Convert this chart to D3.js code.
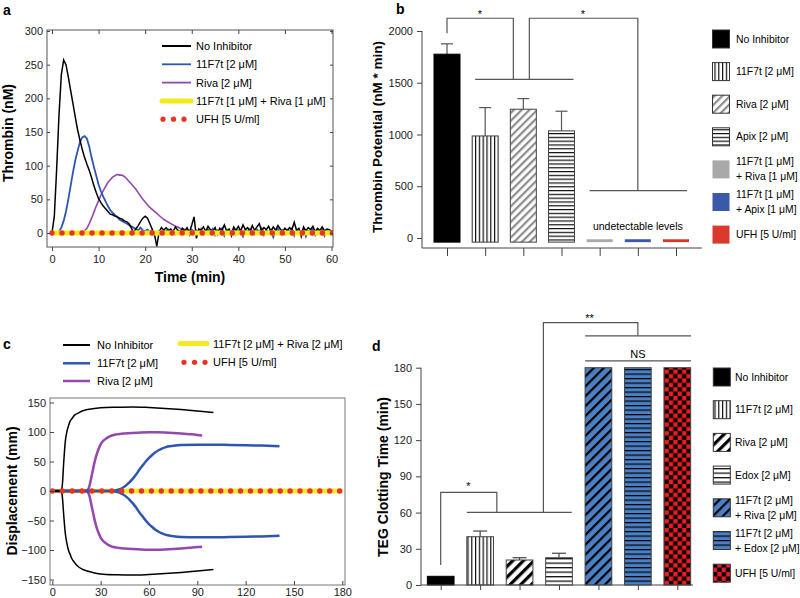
<!DOCTYPE html>
<html><head><meta charset="utf-8">
<script src="https://cdn.jsdelivr.net/npm/d3@7"></script>
<style>body{margin:0;background:#fff}svg{display:block;font-family:"Liberation Sans",Arial,Helvetica,sans-serif}</style>
</head><body><svg id="fig" width="800" height="598"></svg>
<script>
// ---------------- DATA ----------------
// Panel a: thrombin generation, sampled every 0.5 min from 0 to 60
const timeStepA = 0.5;
const thrombinNoInhib = [
 0,25,95,175,235,257,250,232,212,192,
 172,153,138,124,112,102,93,82,70,60,
 51,45,40,36,32,28,27,25,24,22,
 21,18,17,14,8,1,6,11,17,22,
 25,22,14,6,-2,-20,2,8,4,8,
 3,6,2,9,4,2,7,3,8,1,
 12,24,-8,6,4,9,2,10,5,2,
 8,-2,7,4,12,3,6,-4,9,4,
 10,3,12,5,8,2,11,4,9,14,
 3,8,5,10,2,9,4,11,6,2,
 7,3,8,5,16,4,7,-5,9,3,
 8,5,10,2,7,4,9,3,6,5,2];
const thrombin11F7t = [
 0,0,0,2,8,18,32,50,70,90,
 108,122,135,142,144,140,128,112,98,85,
 72,62,54,47,40,34,30,27,24,20,
 18,16,14,12,10,8,6,4,8,4,
 3,5,2,4,-2,1,3,0,4,2,
 5,1,3,-2,4,2,6,1,3,-3,
 5,2,4,0,6,-2,3,5,1,6,
 -3,4,2,7,-4,3,5,1,6,-2,
 4,2,-5,5,1,6,3,-2,5,2,
 7,-3,4,1,5,-6,3,6,0,4,
 -2,5,2,7,-4,3,5,1,6,-5,
 3,2,6,-3,4,1,5,-4,3,2,0];
const thrombinRiva = [
 0,0,0,0,0,0,0,0,0,0,
 0,0,0,1,3,7,14,22,31,40,
 48,56,63,69,75,79,83,85,87,86,
 86,84,81,77,73,69,65,60,55,50,
 46,42,38,35,32,29,26,23,20,18,
 16,14,12,10,9,7,6,5,4,3,
 3,2,2,1,2,1,0,2,1,1,
 0,2,1,0,1,2,0,1,1,0,
 2,1,0,1,1,0,2,1,0,1,
 1,0,2,1,0,1,1,0,1,2,
 0,1,1,0,2,1,0,1,1,0,
 1,2,0,1,1,0,1,2,0,1,0];
const ufhTimesA = [0,2.15,4.3,6.45,8.6,10.75,12.9,15.05,17.2,19.35,21.5,23.65,25.8,27.95,30.1,32.25,34.4,36.55,38.7,40.85,43,45.15,47.3,49.45,51.6,53.75,55.9,58.05,60.2];
const xTicksA = [0,10,20,30,40,50,60];
const yTicksA = [0,50,100,150,200,250,300];
const legendA = ["No Inhibitor","11F7t [2 μM]","Riva [2 μM]","11F7t [1 μM] + Riva [1 μM]","UFH [5 U/ml]"];

// Panel b: thrombin potential
const catB = ["No Inhibitor","11F7t [2 μM]","Riva [2 μM]","Apix [2 μM]","11F7t [1 μM]|+ Riva [1 μM]","11F7t [1 μM]|+ Apix [1 μM]","UFH [5 U/ml]"];
const potentialB = [1776, 986, 1244, 1035, null, null, null];
const potentialSD = [100, 274, 103, 190, null, null, null];
const yTicksB = [0,500,1000,1500,2000];

// Panel c: TEG displacement
const tBlack = [0,3,5,6,6.5,7,7.5,8,9,10,11,12,14,16,19,25,30,40,50,60,70,80,90,100];
const dispBlackUp = [0,0,0,5,20,45,65,82,100,110,118,122,129,132,136,139.5,141,142,142.5,141.5,140,138,135.5,133];
const dispBlackDn = [0,0,0,-5,-18,-38,-55,-70,-88,-100,-107,-114,-122,-128,-133,-138,-140.5,-142,-142.5,-141.5,-140,-138,-135.5,-133];
const tRiva = [0,10,20,21,22,23,24,25,26,27,28,29,30,32,34,36,38,40,45,50,55,60,65,70,75,80,85,90,93];
const dispRivaUp = [0,0,0,0.5,2,8,20,33,46,57,66,73,79,86,90,93,95,96,97.5,98.5,99.3,99.7,99.7,99.3,98.5,97.5,96.3,95,94];
const dispRivaDn = [0,0,0,-0.5,-2,-8,-20,-33,-46,-57,-66,-73,-79,-86,-90,-93,-95,-96,-97.5,-98.5,-99.3,-99.7,-99.7,-99.3,-98.5,-97.5,-96.3,-95,-94.5];
const t11F7t = [0,20,30,36,38,40,42,44,46,48,50,52,54,56,58,60,62,64,66,68,70,75,80,90,100,110,120,130,141];
const disp11F7tUp = [0,0,0,0,0.5,1.5,3,6,10,15,21,28,36,43,50,56,61,65.5,69,72,74,76.5,78,78.5,78.5,78,77.5,77,76];
const disp11F7tDn = [0,0,0,0,-0.5,-1.5,-3,-6,-10,-15,-21,-28,-36,-43,-50,-56,-61,-65.5,-69,-72,-74,-76.5,-78,-78.5,-78.5,-78,-77.5,-77,-76];
const tCombo = [0,180];
const dispCombo = [0,0];
const ufhTimesC = [0,6.15,12.3,18.45,24.6,30.75,36.9,43.05,49.2,55.35,61.5,67.65,73.8,79.95,86.1,92.25,98.4,104.55,110.7,116.85,123,129.15,135.3,141.45,147.6,153.75,159.9,166.05,172.2,178.35];
const xTicksC = [0,30,60,90,120,150,180];
const yTicksC = [-150,-100,-50,0,50,100,150];
const legendC = ["No Inhibitor","11F7t [2 μM]","Riva [2 μM]","11F7t [2 μM] + Riva [2 μM]","UFH [5 U/ml]"];

// Panel d: TEG clotting time
const catD = ["No Inhibitor","11F7t [2 μM]","Riva [2 μM]","Edox [2 μM]","11F7t [2 μM]|+ Riva [2 μM]","11F7t [2 μM]|+ Edox [2 μM]","UFH [5 U/ml]"];
const clotD = [7.2, 40, 20.7, 22.6, 180, 180, 180];
const clotSD = [0, 4.7, 1.9, 3.7, 0, 0, 0];
const yTicksD = [0,30,60,90,120,150,180];

// ---------------- STYLES ----------------
const colA = ["#000000","#2f55b3","#9447ad","#f4ea1a","#ea3323"];
const fillB = ["#000","url(#pV)","url(#pDiagGray)","url(#pH)","#a9a9a9","#3a59a8","#d93a2b"];
const fillD = ["#000","url(#pV)","url(#pDiagBlk)","url(#pH2)","url(#pBlueDiag)","url(#pBlueH)","url(#pCheck)"];

const svg = d3.select("#fig");
const FONT = 11;
const LEGFONT = 10.4;
const axisCol = "#444";

// ---------- patterns ----------
const defs = svg.append("defs");
function pattern(id, w, h, bg, rot){
  const p = defs.append("pattern").attr("id", id).attr("patternUnits","userSpaceOnUse")
    .attr("width", w).attr("height", h);
  if (rot) p.attr("patternTransform", `rotate(${rot})`);
  p.append("rect").attr("width", w).attr("height", h).attr("fill", bg);
  return p;
}
pattern("pV", 3.8, 4, "#fff").append("rect").attr("x",0).attr("width",1.2).attr("height",4).attr("fill","#111");
pattern("pH", 4, 3.8, "#fff").append("rect").attr("y",0).attr("height",1.2).attr("width",4).attr("fill","#111");
pattern("pH2", 4, 4.5, "#fff").append("rect").attr("y",0).attr("height",1.3).attr("width",4).attr("fill","#111");
pattern("pDiagGray", 5.5, 6, "#fff", 45).append("rect").attr("width",2.2).attr("height",6).attr("fill","#8c8c8c");
pattern("pDiagBlk", 7.5, 8, "#fff", 45).append("rect").attr("width",3.2).attr("height",8).attr("fill","#000");
pattern("pBlueDiag", 7, 8, "#4a80c4", 45).append("rect").attr("width",2.2).attr("height",8).attr("fill","#000");
pattern("pBlueH", 4, 4.5, "#4a80c4").append("rect").attr("height",1.2).attr("width",4).attr("fill","#000");
{
  const p = pattern("pCheck", 8.8, 8.8, "#ed1c24");
  p.append("rect").attr("x",0).attr("y",0).attr("width",4.4).attr("height",4.4).attr("fill","#000");
  p.append("rect").attr("x",4.4).attr("y",4.4).attr("width",4.4).attr("height",4.4).attr("fill","#000");
}

function styleAxis(g){
  g.select(".domain").remove();
  g.selectAll(".tick line").attr("stroke", axisCol);
  g.selectAll(".tick text").attr("font-size", FONT).attr("fill","#222")
    .attr("font-family",'"Liberation Sans",Arial,sans-serif');
}
function panelLabel(x,y,t){
  svg.append("text").attr("x",x).attr("y",y).attr("font-size",14).attr("font-weight","bold").text(t);
}
function yTitle(x,y,t,fs){
  svg.append("text").attr("transform",`translate(${x},${y}) rotate(-90)`).attr("text-anchor","middle")
    .attr("dominant-baseline","central").attr("font-size",fs||14).attr("font-weight","bold").text(t);
}
const fmt = d3.format("d");

// ================= PANEL A =================
{
  const L=47,R=333,T=30,B=247;
  const x = d3.scaleLinear([0,60],[52,331.5]);
  const y = d3.scaleLinear([0,300],[233,31]);
  panelLabel(3,15,"a");
  svg.append("clipPath").attr("id","clipA").append("rect").attr("x",L).attr("y",T).attr("width",R-L).attr("height",B-T);
  const g = svg.append("g");
  const line = d3.line().x((d,i)=>x(i*timeStepA)).y(d=>y(d));
  const gc = g.append("g").attr("clip-path","url(#clipA)");
  gc.append("path").datum(thrombinRiva).attr("d",line).attr("fill","none").attr("stroke",colA[2]).attr("stroke-width",1.6);
  gc.append("path").datum(thrombin11F7t).attr("d",line).attr("fill","none").attr("stroke",colA[1]).attr("stroke-width",1.8);
  gc.append("path").datum(thrombinNoInhib).attr("d",line).attr("fill","none").attr("stroke",colA[0]).attr("stroke-width",1.5);
  gc.append("line").attr("x1",x(0)).attr("x2",x(60)).attr("y1",y(0)).attr("y2",y(0)).attr("stroke",colA[3]).attr("stroke-width",5);
  gc.selectAll("circle.u").data(ufhTimesA).join("circle").attr("cx",d=>x(d)).attr("cy",y(0)).attr("r",2.7).attr("fill",colA[4]);
  g.append("rect").attr("x",L).attr("y",T).attr("width",R-L).attr("height",B-T).attr("fill","none").attr("stroke","#555");
  styleAxis(g.append("g").attr("transform",`translate(0,${B})`).call(d3.axisBottom(x).tickValues(xTicksA).tickSize(4).tickPadding(4)));
  styleAxis(g.append("g").attr("transform",`translate(0,${T})`).call(d3.axisBottom(x).tickValues(xTicksA).tickSize(4).tickFormat("")));
  styleAxis(g.append("g").attr("transform",`translate(${L},0)`).call(d3.axisLeft(y).tickValues(yTicksA).tickSize(-3).tickPadding(4)));
  styleAxis(g.append("g").attr("transform",`translate(${R},0)`).call(d3.axisLeft(y).tickValues(yTicksA).tickSize(3).tickFormat("")));
  yTitle(8,133,"Thrombin (nM)");
  svg.append("text").attr("x",190).attr("y",282).attr("text-anchor","middle").attr("font-size",14).attr("font-weight","bold").text("Time (min)");
  // legend
  const lg = svg.append("g");
  legendA.forEach((t,i)=>{
    const yy = 46 + i*18.3;
    if(i<4){
      lg.append("line").attr("x1",162).attr("x2",191).attr("y1",yy).attr("y2",yy)
        .attr("stroke",colA[i]).attr("stroke-width", i===3?5:(i===0?2:1.8)).attr("stroke-linecap", i===3?"round":"butt");
    } else {
      [163,173.5,184].forEach(cx=>lg.append("circle").attr("cx",cx).attr("cy",yy).attr("r",2.6).attr("fill",colA[4]));
    }
    lg.append("text").attr("x",196).attr("y",yy).attr("dominant-baseline","central").attr("font-size",FONT).text(t);
  });
}

// ================= PANEL B =================
{
  const x = d3.scalePoint(catB,[447,676]);
  const y = d3.scaleLinear([0,2000],[238,31]);
  const bw = 26, axX = 422, axB = 248;
  panelLabel(396,14,"b");
  const g = svg.append("g");
  // axes
  g.append("line").attr("x1",axX).attr("x2",axX).attr("y1",y(2000)).attr("y2",axB).attr("stroke",axisCol);
  g.append("line").attr("x1",axX).attr("x2",702).attr("y1",axB).attr("y2",axB).attr("stroke",axisCol);
  styleAxis(g.append("g").attr("transform",`translate(${axX},0)`).call(d3.axisLeft(y).tickValues(yTicksB).tickFormat(fmt).tickSize(5).tickPadding(4)));
  styleAxis(g.append("g").attr("transform",`translate(0,${axB})`).call(d3.axisBottom(x).tickSize(8).tickFormat("")));
  const base = -40;
  catB.forEach((c,i)=>{
    const v = potentialB[i];
    if(v!==null){
      const sd = potentialSD[i];
      g.append("line").attr("x1",x(c)).attr("x2",x(c)).attr("y1",y(v)).attr("y2",y(v+sd)).attr("stroke","#555").attr("stroke-width",1.2);
      g.append("line").attr("x1",x(c)-6).attr("x2",x(c)+6).attr("y1",y(v+sd)).attr("y2",y(v+sd)).attr("stroke","#555").attr("stroke-width",1.2);
      g.append("rect").attr("x",x(c)-bw/2).attr("y",y(v)).attr("width",bw).attr("height",y(base)-y(v))
        .attr("fill",fillB[i]).attr("stroke",i===0?"#000":"#444").attr("stroke-width",1);
    } else {
      g.append("rect").attr("x",x(c)-bw/2).attr("y",y(-12)).attr("width",bw).attr("height",y(-40)-y(-12)).attr("fill",fillB[i]);
    }
  });
  g.append("text").attr("x",x(catB[5])).attr("y",226).attr("text-anchor","middle").attr("dominant-baseline","central").attr("font-size",10.5).text("undetectable levels");
  // significance brackets
  const br = "#555";
  const path = (pts)=>g.append("path").attr("d",d3.line()(pts)).attr("fill","none").attr("stroke",br).attr("stroke-width",1.2);
  path([[x(catB[0]),y(1978)],[x(catB[0]),y(2123)],[x(catB[2])-10,y(2123)],[x(catB[2])-10,y(1533)]]);
  path([[x(catB[1])-10,y(1533)],[x(catB[3])+12,y(1533)]]);
  path([[x(catB[2])+6,y(1533)],[x(catB[2])+6,y(2123)],[x(catB[5]),y(2123)],[x(catB[5]),y(457)]]);
  path([[x(catB[4])-10,y(457)],[x(catB[6])+11,y(457)]]);
  g.append("text").attr("x",480).attr("y",18).attr("text-anchor","middle").attr("font-size",11).text("*");
  g.append("text").attr("x",583).attr("y",18).attr("text-anchor","middle").attr("font-size",11).text("*");
  yTitle(377,137,"Thrombin Potential (nM * min)",13.5);
  // legend
  catB.forEach((c,i)=>{
    const yy = 39 + i*32.6;
    svg.append("rect").attr("x",712.5).attr("y",yy-9).attr("width",17).attr("height",18).attr("fill",fillB[i])
      .attr("stroke", i<4 ? "#333" : "none").attr("stroke-width",1);
    const parts = c.split("|");
    parts.forEach((p,k)=>{
      svg.append("text").attr("x",736).attr("y",yy + (parts.length>1 ? (k===0?-7.5:7.5) : 0))
        .attr("dominant-baseline","central").attr("font-size",LEGFONT).text(p);
    });
  });
}

// ================= PANEL C =================
{
  const L=50,R=345,T=398,B=585;
  const x = d3.scaleLinear([0,180],[52.3,342.3]);
  const y = d3.scaleLinear([-150,150],[579.5,402.5]);
  panelLabel(3,349,"c");
  const g = svg.append("g");
  const ln = (ts)=>d3.line().curve(d3.curveMonotoneX).x((d,i)=>x(ts[i])).y(d=>y(d));
  g.append("path").datum(dispCombo).attr("d",ln(tCombo)).attr("fill","none").attr("stroke","#f2ea26").attr("stroke-width",4.5);
  g.append("path").datum(dispRivaUp).attr("d",ln(tRiva)).attr("fill","none").attr("stroke",colA[2]).attr("stroke-width",2.5);
  g.append("path").datum(dispRivaDn).attr("d",ln(tRiva)).attr("fill","none").attr("stroke",colA[2]).attr("stroke-width",2.5);
  g.append("path").datum(disp11F7tUp).attr("d",ln(t11F7t)).attr("fill","none").attr("stroke","#2f55b3").attr("stroke-width",2.5);
  g.append("path").datum(disp11F7tDn).attr("d",ln(t11F7t)).attr("fill","none").attr("stroke","#2f55b3").attr("stroke-width",2.5);
  g.append("path").datum(dispBlackUp).attr("d",ln(tBlack)).attr("fill","none").attr("stroke","#000").attr("stroke-width",1.5);
  g.append("path").datum(dispBlackDn).attr("d",ln(tBlack)).attr("fill","none").attr("stroke","#000").attr("stroke-width",1.5);
  g.append("line").attr("x1",x(45)).attr("x2",x(180)).attr("y1",y(0)).attr("y2",y(0)).attr("stroke","#f2ea26").attr("stroke-width",4.5);
  g.selectAll("circle.u").data(ufhTimesC).join("circle").attr("cx",d=>x(d)).attr("cy",y(0)).attr("r",2.7).attr("fill","#ea3323");
  g.append("rect").attr("x",L).attr("y",T).attr("width",R-L).attr("height",B-T).attr("fill","none").attr("stroke","#777");
  styleAxis(g.append("g").attr("transform",`translate(0,${B})`).call(d3.axisBottom(x).tickValues(xTicksC).tickSize(-4).tickPadding(3)));
  styleAxis(g.append("g").attr("transform",`translate(${L},0)`).call(d3.axisLeft(y).tickValues(yTicksC).tickSize(-4).tickPadding(4)));
  yTitle(12,491,"Displacement (mm)");
  // legend
  const rows = [[63,345],[63,363.3],[63,381],[180,343.5],[180,362.3]];
  const cols = ["#000","#2f55b3",colA[2],"#f2ea26","#ea3323"];
  legendC.forEach((t,i)=>{
    const [lx,ly] = rows[i];
    if(i<4){
      svg.append("line").attr("x1",lx).attr("x2",lx+27).attr("y1",ly).attr("y2",ly).attr("stroke",cols[i])
        .attr("stroke-width", i===3?5:(i===0?2:2.5)).attr("stroke-linecap", i===3?"round":"butt");
    } else {
      [lx+4,lx+14.5,lx+25].forEach(cx=>svg.append("circle").attr("cx",cx).attr("cy",ly).attr("r",2.6).attr("fill",cols[i]));
    }
    svg.append("text").attr("x",i<3?97:213).attr("y",ly).attr("dominant-baseline","central").attr("font-size",FONT).text(t);
  });
}

// ================= PANEL D =================
{
  const x = d3.scalePoint(catD,[440.7,677.3]);
  const y = d3.scaleLinear([0,180],[585,367.7]);
  const bw = 26.7, axX = 421, axB = 585;
  panelLabel(372,351,"d");
  const g = svg.append("g");
  catD.forEach((c,i)=>{
    const v = clotD[i], sd = clotSD[i];
    if(sd>0){
      g.append("line").attr("x1",x(c)).attr("x2",x(c)).attr("y1",y(v)).attr("y2",y(v+sd)).attr("stroke","#444").attr("stroke-width",1.2);
      g.append("line").attr("x1",x(c)-7).attr("x2",x(c)+7).attr("y1",y(v+sd)).attr("y2",y(v+sd)).attr("stroke","#444").attr("stroke-width",1.2);
    }
    g.append("rect").attr("x",x(c)-bw/2).attr("y",y(v)).attr("width",bw).attr("height",y(0)-y(v))
      .attr("fill",fillD[i]).attr("stroke",i===0?"#000":"#444").attr("stroke-width",1);
  });
  g.append("line").attr("x1",axX).attr("x2",axX).attr("y1",y(180)).attr("y2",axB).attr("stroke",axisCol);
  g.append("line").attr("x1",axX).attr("x2",693).attr("y1",axB).attr("y2",axB).attr("stroke",axisCol);
  styleAxis(g.append("g").attr("transform",`translate(${axX},0)`).call(d3.axisLeft(y).tickValues(yTicksD).tickFormat(fmt).tickSize(5).tickPadding(4)));
  styleAxis(g.append("g").attr("transform",`translate(0,${axB})`).call(d3.axisBottom(x).tickSize(5).tickFormat("")));
  const br = "#555";
  const path = (pts)=>g.append("path").attr("d",d3.line()(pts)).attr("fill","none").attr("stroke",br).attr("stroke-width",1.2);
  path([[x(catD[0]),y(16.6)],[x(catD[0]),y(76.8)],[x(catD[1])+16.7,y(76.8)],[x(catD[1])+16.7,y(60.2)]]);
  path([[x(catD[1])-13.3,y(60.2)],[x(catD[3])+12.7,y(60.2)]]);
  path([[x(catD[3])-15.6,y(60.2)],[x(catD[3])-15.6,y(217.4)],[x(catD[5]),y(217.4)],[x(catD[5]),y(206.4)]]);
  path([[x(catD[4])-13.3,y(206.4)],[x(catD[6])+13.7,y(206.4)]]);
  path([[x(catD[4])-13.3,y(185.6)],[x(catD[6])+13.7,y(185.6)]]);
  g.append("text").attr("x",468.5).attr("y",490).attr("text-anchor","middle").attr("font-size",11).text("*");
  g.append("text").attr("x",589.5).attr("y",322).attr("text-anchor","middle").attr("font-size",11).text("**");
  g.append("text").attr("x",x(catD[5])).attr("y",353.5).attr("text-anchor","middle").attr("dominant-baseline","central").attr("font-size",11).text("NS");
  yTitle(383,477,"TEG Clotting Time (min)");
  catD.forEach((c,i)=>{
    const yy = 377 + i*32.7;
    svg.append("rect").attr("x",713.3).attr("y",yy-9).attr("width",17).attr("height",18).attr("fill",fillD[i])
      .attr("stroke","#333").attr("stroke-width",1);
    const parts = c.split("|");
    parts.forEach((p,k)=>{
      svg.append("text").attr("x",735).attr("y",yy + (parts.length>1 ? (k===0?-7.5:7.5) : 0))
        .attr("dominant-baseline","central").attr("font-size",LEGFONT).text(p);
    });
  });
}
</script></body></html>
